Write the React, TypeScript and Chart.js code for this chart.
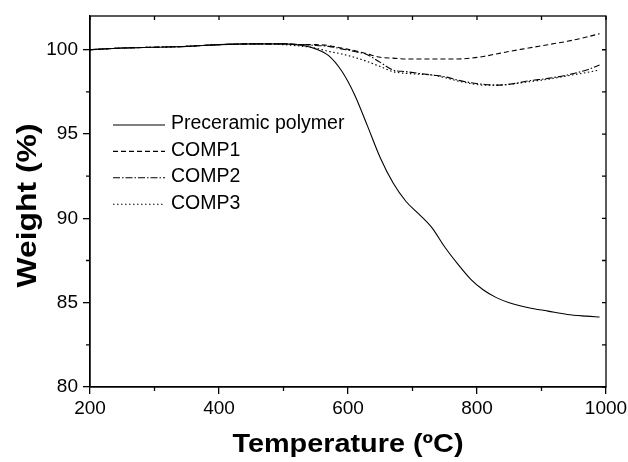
import React, { useEffect, useRef } from "react";
import { Chart, registerables } from "chart.js";

Chart.register(...registerables);

// ---- data ----
const temperatures = [200, 250, 300, 350, 400, 450, 500, 530, 550, 570, 590, 610, 630, 650, 670, 690, 710, 730, 750, 770, 790, 810, 830, 850, 880, 910, 940, 970, 990];
const polymer = [100.0, 100.1, 100.15, 100.2, 100.3, 100.35, 100.35, 100.25, 100.05, 99.65, 98.75, 97.35, 95.5, 93.6, 92.1, 91.0, 90.25, 89.45, 88.3, 87.3, 86.4, 85.75, 85.3, 85.0, 84.7, 84.5, 84.3, 84.2, 84.15];
const comp1 = [100.0, 100.1, 100.15, 100.2, 100.3, 100.35, 100.35, 100.3, 100.3, 100.25, 100.1, 99.95, 99.75, 99.55, 99.5, 99.45, 99.45, 99.45, 99.45, 99.45, 99.5, 99.6, 99.75, 99.9, 100.1, 100.3, 100.5, 100.75, 100.95];
const comp2 = [100.0, 100.1, 100.15, 100.2, 100.3, 100.35, 100.35, 100.3, 100.25, 100.2, 100.05, 99.9, 99.7, 99.25, 98.8, 98.7, 98.6, 98.5, 98.4, 98.2, 98.05, 97.95, 97.9, 97.95, 98.15, 98.3, 98.5, 98.8, 99.1];
const comp3 = [100.0, 100.1, 100.15, 100.2, 100.3, 100.35, 100.3, 100.2, 100.1, 99.9, 99.75, 99.55, 99.3, 99.0, 98.7, 98.6, 98.55, 98.5, 98.35, 98.15, 98.0, 97.9, 97.9, 97.95, 98.1, 98.25, 98.45, 98.65, 98.8];

const seriesLabels = ["Preceramic polymer", "COMP1", "COMP2", "COMP3"];
const xTicks = [200, 400, 600, 800, 1000];
const xMinorTicks = [300, 500, 700, 900];
const yTicks = [80, 85, 90, 95, 100];
const yMinorTicks = [82.5, 87.5, 92.5, 97.5];
const xTitle = "Temperature (ºC)";
const yTitle = "Weight (%)";

const FONT = "Arial, 'Liberation Sans', Helvetica, sans-serif";

const decorPlugin = {
  id: "decor",
  afterDraw(chart: any) {
    const { ctx, chartArea: a, scales } = chart;
    const x = scales.x;
    const y = scales.y;
    ctx.save();
    ctx.strokeStyle = "#000";
    ctx.lineWidth = 1.3;
    ctx.setLineDash([]);
    // frame
    ctx.strokeRect(a.left, a.top, a.right - a.left, a.bottom - a.top);
    ctx.beginPath();
    // minor outward ticks
    for (const v of xMinorTicks) {
      const px = x.getPixelForValue(v);
      ctx.moveTo(px, a.bottom);
      ctx.lineTo(px, a.bottom + 4);
    }
    for (const v of yMinorTicks) {
      const py = y.getPixelForValue(v);
      ctx.moveTo(a.left, py);
      ctx.lineTo(a.left - 4, py);
    }
    // top / right inward ticks
    for (const v of [...xTicks, ...xMinorTicks]) {
      const px = x.getPixelForValue(v);
      ctx.moveTo(px, a.top);
      ctx.lineTo(px, a.top + 4);
    }
    for (const v of [...yTicks, ...yMinorTicks]) {
      const py = y.getPixelForValue(v);
      ctx.moveTo(a.right, py);
      ctx.lineTo(a.right - 4, py);
    }
    ctx.stroke();

    // legend
    const ds = chart.data.datasets;
    ctx.font = `19.5px ${FONT}`;
    ctx.fillStyle = "#000";
    ctx.textBaseline = "middle";
    ctx.textAlign = "left";
    for (let i = 0; i < ds.length; i++) {
      const ly = 125 + i * 26.4;
      ctx.beginPath();
      ctx.lineWidth = 1.1;
      ctx.setLineDash(ds[i].borderDash || []);
      ctx.moveTo(113, ly);
      ctx.lineTo(165, ly);
      ctx.stroke();
      ctx.setLineDash([]);
      ctx.fillText(ds[i].label, 171, ly - 1);
    }

    // axis titles (stretched to reference width)
    ctx.textBaseline = "alphabetic";
    ctx.textAlign = "center";
    ctx.font = `bold 25px ${FONT}`;
    let w = ctx.measureText(xTitle).width;
    ctx.save();
    ctx.translate((a.left + a.right) / 2, 452);
    ctx.scale(231 / w, 1);
    ctx.fillText(xTitle, 0, 0);
    ctx.restore();

    ctx.font = `bold 28px ${FONT}`;
    w = ctx.measureText(yTitle).width;
    ctx.save();
    ctx.translate(36, (a.top + a.bottom) / 2 + 4);
    ctx.rotate(-Math.PI / 2);
    ctx.scale(164 / w, 1);
    ctx.fillText(yTitle, 0, 0);
    ctx.restore();

    ctx.restore();
  },
};

export default function App() {
  const ref = useRef<HTMLCanvasElement>(null);
  useEffect(() => {
    if (!ref.current) return;
    const mk = (data: number[]) => temperatures.map((t, i) => ({ x: t, y: data[i] }));
    const base = {
      borderColor: "#000",
      borderWidth: 1.1,
      pointRadius: 0,
      fill: false,
      cubicInterpolationMode: "monotone" as const,
    };
    const chart = new Chart(ref.current, {
      type: "line",
      data: {
        datasets: [
          { ...base, label: seriesLabels[0], data: mk(polymer), borderDash: [] },
          { ...base, label: seriesLabels[1], data: mk(comp1), borderDash: [5, 3] },
          { ...base, label: seriesLabels[2], data: mk(comp2), borderDash: [7, 2, 1.5, 2] },
          { ...base, label: seriesLabels[3], data: mk(comp3), borderDash: [1.5, 2.5] },
        ],
      },
      options: {
        animation: false,
        responsive: false,
        layout: { padding: { top: 16, right: 22, left: 0, bottom: 0 } },
        plugins: { legend: { display: false }, tooltip: { enabled: false } },
        scales: {
          x: {
            type: "linear",
            min: 200,
            max: 1000,
            afterBuildTicks: (axis: any) => {
              axis.ticks = xTicks.map((v) => ({ value: v }));
            },
            afterFit: (scale: any) => {
              scale.height = 75;
              scale.paddingRight = 0;
              scale.paddingLeft = 0;
            },
            ticks: {
              color: "#000",
              font: { family: FONT, size: 19 },
              padding: 3,
              maxRotation: 0,
              autoSkip: false,
              callback: (v: any) => String(v),
            },
            grid: { drawOnChartArea: false, drawTicks: true, tickLength: 7, color: "#000", lineWidth: 1.3 },
            border: { display: true, color: "#000", width: 1.3 },
          },
          y: {
            type: "linear",
            min: 80,
            max: 102,
            afterBuildTicks: (axis: any) => {
              axis.ticks = yTicks.map((v) => ({ value: v }));
            },
            afterFit: (scale: any) => {
              scale.width = 90;
              scale.paddingTop = 0;
              scale.paddingBottom = 0;
            },
            ticks: {
              color: "#000",
              font: { family: FONT, size: 19 },
              padding: 5,
              autoSkip: false,
              callback: (v: any) => String(v),
            },
            grid: { drawOnChartArea: false, drawTicks: true, tickLength: 7, color: "#000", lineWidth: 1.3 },
            border: { display: true, color: "#000", width: 1.3 },
          },
        },
      },
      plugins: [decorPlugin],
    });
    return () => chart.destroy();
  }, []);
  return (
    <div style={{ position: "absolute", left: 0, top: 0, width: 628, height: 462, background: "#fff" }}>
      <canvas ref={ref} width={628} height={462} />
    </div>
  );
}
